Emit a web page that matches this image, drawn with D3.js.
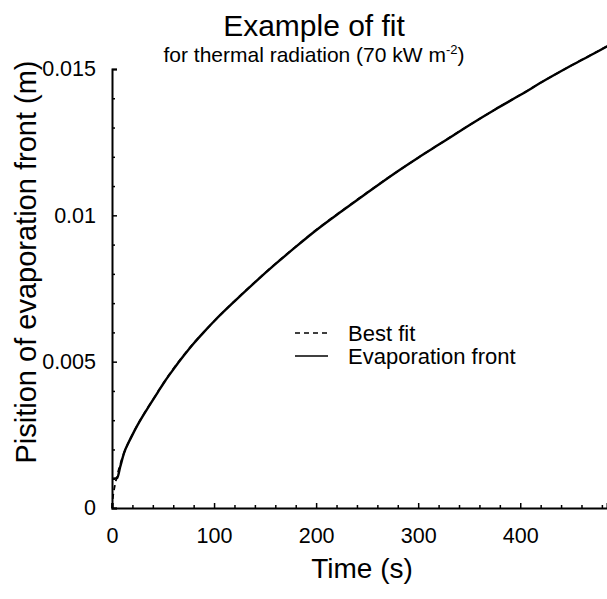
<!DOCTYPE html>
<html>
<head>
<meta charset="utf-8">
<script src="https://cdn.jsdelivr.net/npm/d3@7/dist/d3.min.js"></script>
<style>
  html, body { margin: 0; padding: 0; background: #fff; }
  svg { display: block; }
  text { font-family: "Liberation Sans", Arial, Helvetica, sans-serif; fill: #000; }
</style>
</head>
<body>
<svg id="chart" width="607" height="599"></svg>
<script>
// Measured evaporation front position (m) against time (s)
const frontTime = [1, 5, 8, 12, 16, 20, 25, 30, 37, 45, 52, 60, 70, 80, 90, 100, 120, 140, 160, 180,
                   200, 225, 250, 275, 300, 325, 350, 375, 400, 425, 450, 475, 490];
const frontPos  = [0.00100, 0.00102, 0.00140, 0.00190, 0.00222, 0.00250, 0.00283, 0.00313, 0.00352,
                   0.00396, 0.00434, 0.00473, 0.00519, 0.00562, 0.00601, 0.00638, 0.00706, 0.00771,
                   0.00833, 0.00892, 0.00949, 0.01014, 0.01077, 0.01139, 0.01197, 0.01252, 0.01308,
                   0.01361, 0.01411, 0.01463, 0.01512, 0.01558, 0.01587];

// Best-fit curve (m) against time (s)
const fitTime = [0, 1, 2, 3, 5, 8, 12, 16, 20, 25, 30, 37, 45, 52, 60, 70, 80, 90, 100, 120, 140,
                 160, 180, 200, 225, 250, 275, 300, 325, 350, 375, 400, 425, 450, 475, 490];
const fitPos  = [0, 0.00040, 0.00062, 0.00080, 0.00110, 0.00148, 0.00190, 0.00222, 0.00251, 0.00284,
                 0.00314, 0.00353, 0.00397, 0.00435, 0.00475, 0.00521, 0.00563, 0.00601, 0.00638,
                 0.00707, 0.00772, 0.00834, 0.00893, 0.00950, 0.01015, 0.01078, 0.01139, 0.01197,
                 0.01253, 0.01308, 0.01361, 0.01412, 0.01463, 0.01512, 0.01559, 0.01587];

// Axis ticks
const xMajorTicks = [0, 100, 200, 300, 400];
const xTickLabels = ["0", "100", "200", "300", "400"];
const xMinorTicks = [20, 40, 60, 80, 120, 140, 160, 180, 220, 240, 260, 280, 320, 340, 360, 380, 420, 440, 460, 480];
const yMajorTicks = [0, 0.005, 0.01, 0.015];
const yTickLabels = ["0", "0.005", "0.01", "0.015"];
const yMinorTicks = [0.001, 0.002, 0.003, 0.004, 0.006, 0.007, 0.008, 0.009, 0.011, 0.012, 0.013, 0.014];

const legendItems = [
  { label: "Best fit", dash: "5,4" },
  { label: "Evaporation front", dash: null }
];

const svg = d3.select("#chart");

const x = d3.scaleLinear().domain([0, 485]).range([112, 607]);
const y = d3.scaleLinear().domain([0, 0.015]).range([508, 69]);

// X axis (ticks pointing into the plot)
const xAxis = d3.axisBottom(x)
  .tickValues(xMajorTicks)
  .tickFormat((d, i) => xTickLabels[i])
  .tickSize(-5)
  .tickPadding(20);
const gx = svg.append("g").attr("transform", `translate(0,${y(0)})`).call(xAxis);
gx.select(".domain").attr("stroke-width", 2);
gx.selectAll(".tick line").attr("stroke-width", 1.5);
gx.selectAll(".tick text").attr("font-size", 21.5).attr("font-family", '"Liberation Sans", Arial, sans-serif');

svg.append("g").attr("transform", `translate(0,${y(0)})`)
  .call(d3.axisBottom(x).tickValues(xMinorTicks).tickFormat("").tickSize(-3))
  .call(g => g.select(".domain").remove())
  .selectAll(".tick line").attr("stroke-width", 1.5);

// Y axis (ticks pointing into the plot)
const yAxis = d3.axisLeft(y)
  .tickValues(yMajorTicks)
  .tickFormat((d, i) => yTickLabels[i])
  .tickSize(-5)
  .tickPadding(16);
const gy = svg.append("g").attr("transform", `translate(${x(0)},0)`).call(yAxis);
gy.select(".domain").attr("stroke-width", 2);
gy.selectAll(".tick line").attr("stroke-width", 1.5);
gy.selectAll(".tick text").attr("font-size", 21.5).attr("font-family", '"Liberation Sans", Arial, sans-serif');

svg.append("g").attr("transform", `translate(${x(0)},0)`)
  .call(d3.axisLeft(y).tickValues(yMinorTicks).tickFormat("").tickSize(-3))
  .call(g => g.select(".domain").remove())
  .selectAll(".tick line").attr("stroke-width", 1.5);

// Curves
const line = d3.line().x(d => x(d[0])).y(d => y(d[1])).curve(d3.curveMonotoneX);

svg.append("path")
  .datum(fitTime.map((t, i) => [t, fitPos[i]]))
  .attr("fill", "none")
  .attr("stroke", "#000")
  .attr("stroke-width", 1.8)
  .attr("stroke-dasharray", "5,4")
  .attr("d", line);

svg.append("path")
  .datum(frontTime.map((t, i) => [t, frontPos[i]]))
  .attr("fill", "none")
  .attr("stroke", "#000")
  .attr("stroke-width", 2.4)
  .attr("d", line);

// Legend
const legend = svg.append("g").attr("transform", "translate(295,333)");
legendItems.forEach((item, i) => {
  const row = legend.append("g").attr("transform", `translate(0,${i * 23})`);
  row.append("line")
    .attr("x1", 0).attr("x2", 33).attr("y1", 0).attr("y2", 0)
    .attr("stroke", "#000").attr("stroke-width", 1.6)
    .attr("stroke-dasharray", item.dash);
  row.append("text")
    .attr("x", 53).attr("y", 8)
    .attr("font-size", 22)
    .text(item.label);
});

// Titles
svg.append("text")
  .attr("x", 314).attr("y", 36)
  .attr("text-anchor", "middle")
  .attr("font-size", 30)
  .text("Example of fit");

const sub = svg.append("text")
  .attr("x", 314).attr("y", 62)
  .attr("text-anchor", "middle")
  .attr("font-size", 21);
sub.append("tspan").text("for thermal radiation (70 kW m");
sub.append("tspan").attr("font-size", 13).attr("dy", -8).text("-2");
sub.append("tspan").attr("dy", 8).text(")");

svg.append("text")
  .attr("x", 362).attr("y", 578)
  .attr("text-anchor", "middle")
  .attr("font-size", 28)
  .text("Time (s)");

svg.append("text")
  .attr("transform", "translate(36,262) rotate(-90)")
  .attr("text-anchor", "middle")
  .attr("font-size", 29)
  .text("Pisition of evaporation front (m)");
</script>
</body>
</html>
